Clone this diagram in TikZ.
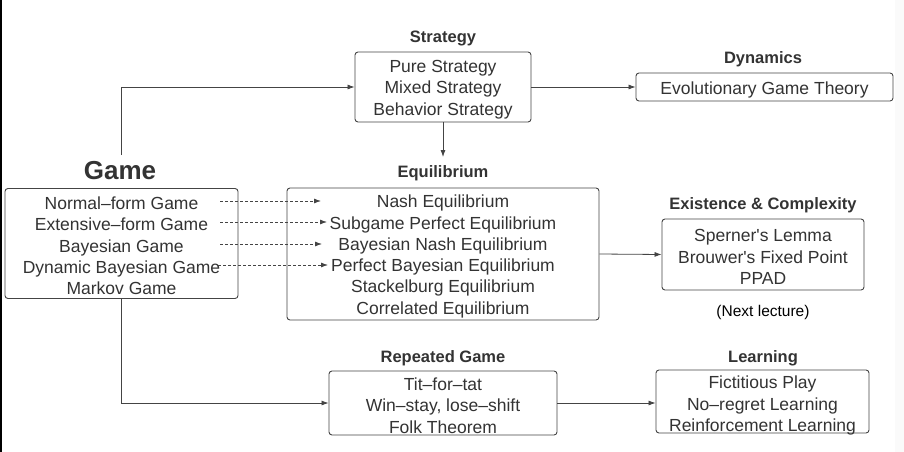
\documentclass[tikz,border=0pt]{standalone}
\usepackage{fontspec}
\setmainfont{Liberation Sans}
\usetikzlibrary{arrows.meta,calc}
\definecolor{txt}{HTML}{333333}
\definecolor{ln}{HTML}{444444}
\begin{document}
\begin{tikzpicture}[x=1pt,y=-1pt,
  box/.style={draw=ln, line width=0.9pt, rounded corners=3pt, inner sep=0pt},
  lbl/.style={align=center, text=txt, inner sep=0pt, yshift=-2.5pt, font=\fontsize{17.5}{21.3}\selectfont},
  ttl/.style={text=txt, font=\bfseries\fontsize{16.5}{20}\selectfont, inner sep=1pt},
  arr/.style={draw=ln, line width=0.8pt, -{Latex[length=7pt,width=5pt]}},
  darr/.style={arr, dash pattern=on 3pt off 2pt}]
\useasboundingbox (0,0) rectangle (904,452);
\fill[white] (0,0) rectangle (904,452);
\fill[black!2] (895,0) rectangle (904,452);
\fill[black] (0,0) rectangle (1.6,452);

% boxes
\node[box, minimum width=176pt, minimum height=70pt,
  label={[lbl]center:{Pure Strategy\\Mixed Strategy\\Behavior Strategy}}] (strategy) at (443,87) {};
\node[box, minimum width=257pt, minimum height=28pt,
  label={[lbl]center:{Evolutionary Game Theory}}] (dynamics) at (764.5,87) {};
\node[box, minimum width=233pt, minimum height=110pt,
  label={[lbl]center:{Normal--form Game\\Extensive--form Game\\Bayesian Game\\Dynamic Bayesian Game\\Markov Game}}] (game) at (121.5,243.5) {};
\node[box, minimum width=312pt, minimum height=132pt,
  label={[lbl]center:{Nash Equilibrium\\Subgame Perfect Equilibrium\\Bayesian Nash Equilibrium\\Perfect Bayesian Equilibrium\\Stackelburg Equilibrium\\Correlated Equilibrium}}] (equilibrium) at (443,254) {};
\node[box, minimum width=202pt, minimum height=71pt,
  label={[lbl]center:{Sperner\textquotesingle s Lemma\\Brouwer\textquotesingle s Fixed Point\\PPAD}}] (existence) at (763,254.5) {};
\node[box, minimum width=228pt, minimum height=64pt,
  label={[lbl]center:{Tit--for--tat\\Win--stay, lose--shift\\Folk Theorem}}] (repeated) at (443,403) {};
\node[box, minimum width=213pt, minimum height=63pt,
  label={[lbl, yshift=-1.5pt]center:{Fictitious Play\\No--regret Learning\\Reinforcement Learning}}] (learning) at (762.5,401.5) {};

% titles
\node[ttl] (strategyT) at (443,38) {Strategy};
\node[ttl] (dynamicsT) at (763,59) {Dynamics};
\node[ttl, font=\bfseries\fontsize{26}{30}\selectfont] (gameT) at (120,171) {Game};
\node[ttl] (equilibriumT) at (443,173) {Equilibrium};
\node[ttl] (existenceT) at (763,205) {Existence \& Complexity};
\node[text=black, font=\fontsize{15.5}{18}\selectfont, inner sep=1pt] (nextT) at (763,312) {(Next lecture)};
\node[ttl] (repeatedT) at (443,358) {Repeated Game};
\node[ttl] (learningT) at (763,358) {Learning};

% connector end points
\coordinate (eqtop) at (443,157);
\coordinate (gtop) at (121.5,155);
\coordinate (s1) at (220,201); \coordinate (e1) at (321,201);
\coordinate (s2) at (220,222); \coordinate (e2) at (327,222);
\coordinate (s3) at (220,244); \coordinate (e3) at (322,244);
\coordinate (s4) at (218,265); \coordinate (e4) at (328,265);

% connectors
\draw[arr] (gtop) |- (strategy.west);
\draw[arr] (strategy.east) -- (dynamics.west);
\draw[arr] (strategy.south) -- (eqtop);
\draw[arr] (equilibrium.east) -- (existence.west);
\draw[arr] (game.south) |- (repeated.west);
\draw[arr] (repeated.east) -- (repeated.east -| learning.west);
\draw[darr] (s1) -- (e1);
\draw[darr] (s2) -- (e2);
\draw[darr] (s3) -- (e3);
\draw[darr] (s4) -- (e4);
\end{tikzpicture}
\end{document}
